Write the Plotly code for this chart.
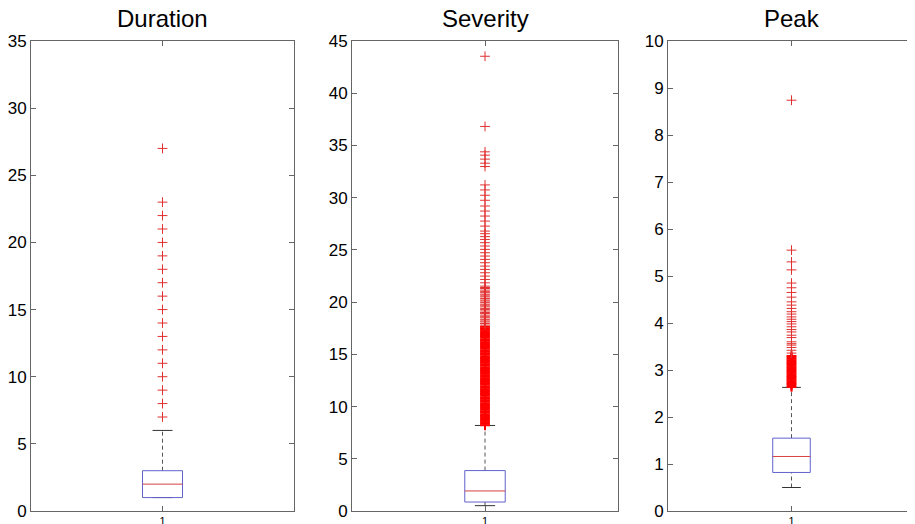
import plotly.graph_objects as go

# the page body has an 8px margin; the figure is sized to fill the visible window
OFF = 8
W, H = 915 - OFF, 524 - OFF

titles = ["Duration", "Severity", "Peak"]
y_max = [35, 45, 10]
y_dtick = [5, 5, 1]

# box statistics: lower whisker, q1, median, q3, upper whisker
lower_wh = [1.0, 0.51, 0.50]
q1 = [1.0, 0.86, 0.82]
median = [2.0, 1.92, 1.16]
q3 = [3.0, 3.87, 1.55]
upper_wh = [6.0, 8.19, 2.63]

duration_outliers = [7, 8, 9, 10, 11, 12, 13, 14, 15, 16, 17, 18, 19, 20, 21, 22, 23, 27]

severity_outliers_dense = [
    8.2, 8.35, 8.5, 8.65, 8.8, 8.95, 9.1, 9.25, 9.4, 9.55, 9.7, 9.85, 10.0, 10.15, 10.3,
    10.45, 10.6, 10.75, 10.9, 11.05, 11.2, 11.35, 11.5, 11.65, 11.8, 11.95, 12.1, 12.25,
    12.4, 12.55, 12.7, 12.85, 13.0, 13.15, 13.3, 13.45, 13.6, 13.75, 13.9, 14.05, 14.2,
    14.35, 14.5, 14.65, 14.8, 14.95, 15.1, 15.25, 15.4, 15.55, 15.7, 15.85, 16.0, 16.15,
    16.3, 16.45, 16.6, 16.75, 16.9, 17.05, 17.2, 17.35, 17.5, 17.65]
severity_outliers = [
    17.8, 17.95, 18.1, 18.2, 18.35, 18.5, 18.6, 18.75, 18.9, 19.0, 19.15, 19.3, 19.4,
    19.55, 19.7, 19.8, 19.95, 20.1, 20.2, 20.35, 20.5, 20.6, 20.75, 20.9, 21.0, 21.15,
    21.3, 21.4, 21.53, 21.85, 22.17, 22.49, 22.81, 23.13, 23.45, 23.77, 24.09, 24.41,
    24.73, 25.05, 25.37, 25.69, 26.0, 26.27, 26.55, 26.8, 27.28, 27.76, 28.24, 28.72,
    29.2, 29.75, 30.23, 30.74, 31.22, 32.98, 33.3, 33.69, 34.07, 34.39, 36.82, 43.54]

peak_outliers_dense = [
    2.64, 2.67, 2.70, 2.73, 2.76, 2.79, 2.82, 2.85, 2.88, 2.91, 2.94, 2.97, 3.00, 3.03,
    3.06, 3.09, 3.12, 3.15, 3.18, 3.21, 3.24, 3.27, 3.30]
peak_outliers = [
    3.36, 3.42, 3.48, 3.53, 3.56, 3.60, 3.69, 3.74, 3.81, 3.86, 3.92, 3.98, 4.03, 4.08,
    4.13, 4.19, 4.24, 4.31, 4.38, 4.45, 4.55, 4.65, 4.75, 4.85, 5.13, 5.3, 5.55, 8.74]

outliers = [duration_outliers, severity_outliers, peak_outliers]
outliers_dense = [[], severity_outliers_dense, peak_outliers_dense]

category = 1
box_half = 0.076
cap_half = 0.038


def px_x(x):
    return min(max((x - OFF) / W, 0.0), 1.0)


def px_y(y):
    return min(max((H - (y - OFF)) / H, 0.0), 1.0)


x_domains = [[px_x(31), px_x(294)], [px_x(352), px_x(618)], [px_x(668), 1.0]]
y_domain = [px_y(511), px_y(41)]

fig = go.Figure()

BOX_COLOR = "#6262cc"
MED_COLOR = "#d84040"
WH_COLOR = "#555555"
CAP_COLOR = "#333333"
OUT_COLOR = "#e03030"

for i in range(3):
    xa = "x" if i == 0 else f"x{i+1}"
    ya = "y" if i == 0 else f"y{i+1}"
    c = category
    # whiskers (dashed)
    fig.add_trace(go.Scatter(x=[c, c], y=[q3[i], upper_wh[i]], mode="lines",
                             line=dict(color=WH_COLOR, width=1, dash="4px,3px"),
                             xaxis=xa, yaxis=ya, showlegend=False, hoverinfo="skip"))
    fig.add_trace(go.Scatter(x=[c, c], y=[lower_wh[i], q1[i]], mode="lines",
                             line=dict(color=WH_COLOR, width=1, dash="4px,3px"),
                             xaxis=xa, yaxis=ya, showlegend=False, hoverinfo="skip"))
    # caps
    for v in (upper_wh[i], lower_wh[i]):
        fig.add_trace(go.Scatter(x=[c - cap_half, c + cap_half], y=[v, v], mode="lines",
                                 line=dict(color=CAP_COLOR, width=1),
                                 xaxis=xa, yaxis=ya, showlegend=False, hoverinfo="skip"))
    # box
    fig.add_trace(go.Scatter(x=[c - box_half, c + box_half, c + box_half, c - box_half, c - box_half],
                             y=[q1[i], q1[i], q3[i], q3[i], q1[i]], mode="lines",
                             line=dict(color=BOX_COLOR, width=1),
                             xaxis=xa, yaxis=ya, showlegend=False, hoverinfo="skip"))
    # median
    fig.add_trace(go.Scatter(x=[c - box_half, c + box_half], y=[median[i], median[i]], mode="lines",
                             line=dict(color=MED_COLOR, width=1),
                             xaxis=xa, yaxis=ya, showlegend=False, hoverinfo="skip"))
    # outliers
    if outliers_dense[i]:
        fig.add_trace(go.Scatter(x=[c] * len(outliers_dense[i]), y=outliers_dense[i], mode="markers",
                                 marker=dict(symbol="cross-thin", size=7,
                                             line=dict(color="red", width=2)),
                                 xaxis=xa, yaxis=ya, showlegend=False, hoverinfo="skip"))
    fig.add_trace(go.Scatter(x=[c] * len(outliers[i]), y=outliers[i], mode="markers",
                             marker=dict(symbol="cross-thin", size=7,
                                         line=dict(color=OUT_COLOR, width=1)),
                             xaxis=xa, yaxis=ya, showlegend=False, hoverinfo="skip"))

layout = dict(
    width=W, height=H,
    margin=dict(l=0, r=0, t=0, b=0, autoexpand=False),
    paper_bgcolor="white", plot_bgcolor="white",
    font=dict(family="Liberation Sans, Arial, sans-serif", color="black"),
    annotations=[],
)
axis_common = dict(showline=True, linecolor="#666666", linewidth=1, mirror="ticks",
                   ticks="inside", ticklen=5, tickcolor="#666666", tickwidth=1,
                   showgrid=False, zeroline=False, automargin=False)
for i in range(3):
    xk = "xaxis" if i == 0 else f"xaxis{i+1}"
    yk = "yaxis" if i == 0 else f"yaxis{i+1}"
    xa = "x" if i == 0 else f"x{i+1}"
    ya = "y" if i == 0 else f"y{i+1}"
    layout[xk] = dict(axis_common, domain=x_domains[i], range=[0.5, 1.5], anchor=ya,
                      tickvals=[category], ticktext=[str(category)],
                      tickfont=dict(size=11, color="black"))
    layout[yk] = dict(axis_common, domain=y_domain, range=[0, y_max[i]], anchor=xa,
                      dtick=y_dtick[i], tick0=0,
                      tickfont=dict(size=17, color="black"))
    layout["annotations"].append(dict(
        text=titles[i], x=sum(x_domains[i]) / 2, y=px_y(18),
        xref="paper", yref="paper", xanchor="center", yanchor="middle",
        showarrow=False, font=dict(size=24, color="black")))

fig.update_layout(**layout)
fig.write_html("out.html")
